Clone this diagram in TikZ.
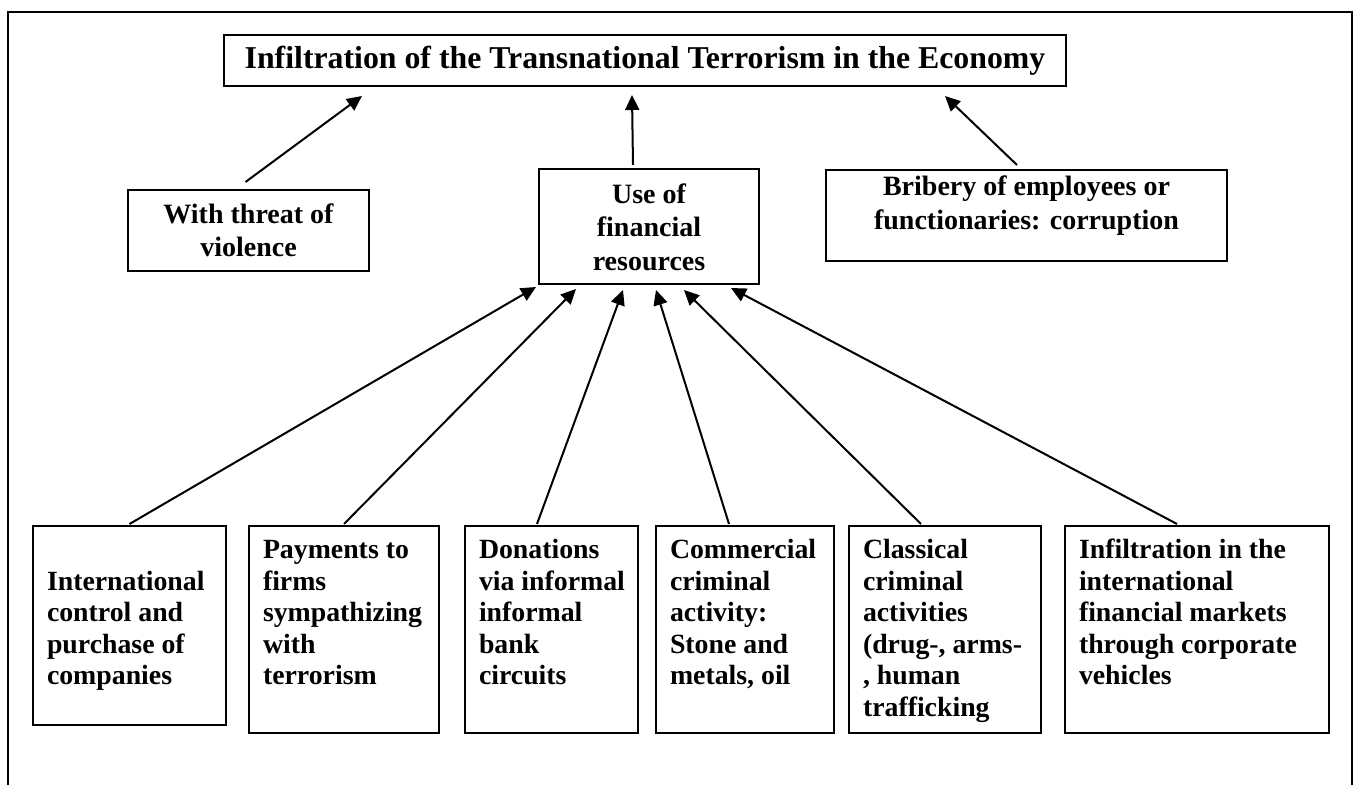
\documentclass[tikz,border=0pt]{standalone}
\usepackage{fontspec}
\setmainfont{Liberation Serif}
\usetikzlibrary{arrows.meta}
\tikzset{
  box/.style={draw, line width=1pt, inner sep=0pt, anchor=north west},
  upbox/.style={box, align=flush center,
     font={\fontsize{14pt}{16.6pt}\selectfont\bfseries}},
  lowbox/.style={box, align=flush left, inner xsep=7pt, text height=16.5pt, text depth=87pt,
     font={\fontsize{13.9pt}{15.75pt}\selectfont\bfseries}},
  arr/.style={line width=1pt, -{Triangle[length=7.5pt,width=7pt]}},
  frame/.style={line width=1pt}
}
\begin{document}
\begin{tikzpicture}[x=0.5pt,y=-0.5pt]
\useasboundingbox (0,0) rectangle (1357,785);
\draw[frame] (8,785) -- (8,12) -- (1352,12) -- (1352,785);

\node[box, minimum width=421pt, minimum height=25.5pt,
      font={\fontsize{15.9pt}{18pt}\selectfont\bfseries}] (title) at (223,34)
  {Infiltration of the Transnational Terrorism in the Economy};

\node[upbox, text width=120.5pt, text height=16.85pt, text depth=23.65pt] (threat) at (127,189)
  {\mbox{With threat of}\\\mbox{violence}};
\node[upbox, text width=110pt, text height=17.35pt, text depth=40.15pt] (use) at (538,168)
  {\mbox{Use of}\\\mbox{financial}\\\mbox{resources}};
\node[upbox, text width=200.5pt, text height=13pt, text depth=32.5pt] (brib) at (825,169)
  {\mbox{Bribery of employees or}\\\mbox{functionaries: corruption}};

\node[lowbox, text width=82.5pt, text depth=83pt] (b1) at (32,525)
  {\mbox{}\\\mbox{International}\\\mbox{control and}\\\mbox{purchase of}\\\mbox{companies}};
\node[lowbox, text width=81pt] (b2) at (248,525)
  {\mbox{Payments to}\\\mbox{firms}\\\mbox{sympathizing}\\\mbox{with}\\\mbox{terrorism}};
\node[lowbox, text width=72.5pt] (b3) at (464,525)
  {\mbox{Donations}\\\mbox{via informal}\\\mbox{informal}\\\mbox{bank}\\\mbox{circuits}};
\node[lowbox, text width=75pt] (b4) at (655,525)
  {\mbox{Commercial}\\\mbox{criminal}\\\mbox{activity:}\\\mbox{Stone and}\\\mbox{metals, oil}};
\node[lowbox, text width=82pt] (b5) at (848,525)
  {\mbox{Classical}\\\mbox{criminal}\\\mbox{activities}\\\mbox{(drug-, arms-}\\\mbox{, human}\\\mbox{trafficking}};
\node[lowbox, text width=118pt] (b6) at (1064,525)
  {\mbox{Infiltration in the}\\\mbox{international}\\\mbox{financial markets}\\\mbox{through corporate}\\\mbox{vehicles}};

\draw[arr] ([shift={(-3,-7)}]threat.north) -- ([shift={(139,9)}]title.south west);
\draw[arr] ([shift={(-16,-3)}]use.north) -- ([shift={(409,8)}]title.south west);
\draw[arr] ([shift={(-9.5,-4)}]brib.north) -- ([shift={(722,9)}]title.south west);

\draw[arr] ([shift={(0,-1)}]b1.north) -- ([shift={(-2,2)}]use.south west);
\draw[arr] ([shift={(0,-1)}]b2.north) -- ([shift={(38,4)}]use.south west);
\draw[arr] ([shift={(-14.5,-1)}]b3.north) -- ([shift={(85,5)}]use.south west);
\draw[arr] ([shift={(-16,-1)}]b4.north) -- ([shift={(118,5)}]use.south west);
\draw[arr] ([shift={(-24,-1)}]b5.north) -- ([shift={(146,5)}]use.south west);
\draw[arr] ([shift={(-20,-1)}]b6.north) -- ([shift={(193,3)}]use.south west);
\end{tikzpicture}
\end{document}
